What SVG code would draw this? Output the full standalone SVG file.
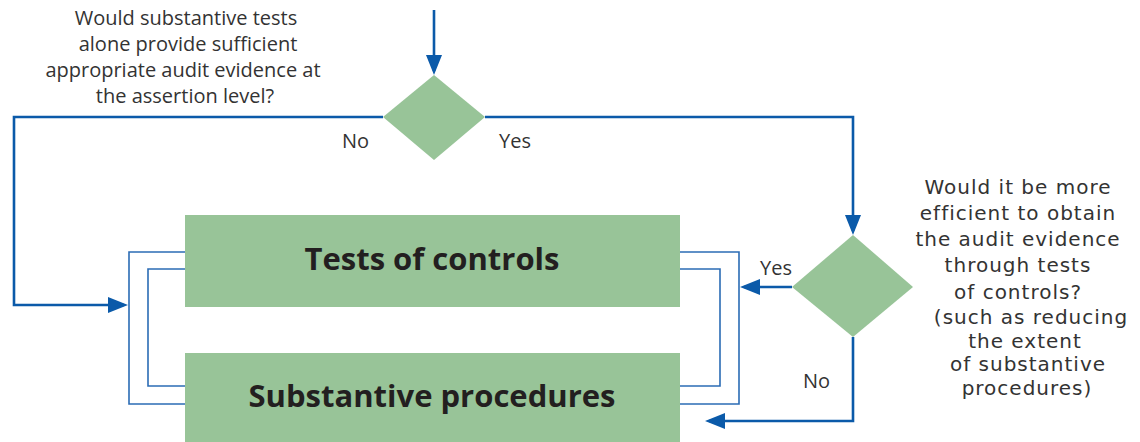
<svg xmlns="http://www.w3.org/2000/svg" width="1140" height="442" viewBox="0 0 1140 442">
<defs>
<style>
.conn{fill:none;stroke:#0b5aa9;stroke-width:2.6}
.brk{fill:none;stroke:#2b6cb5;stroke-width:1.6}
.box{fill:#98c498}
.q{font-family:"Open Sans","Liberation Sans",sans-serif;font-size:20px;fill:#333;text-anchor:middle}
.q2{font-family:"DejaVu Sans","Liberation Sans",sans-serif;font-size:20px;letter-spacing:1px;fill:#333;text-anchor:middle}
.lbl{font-family:"Open Sans","Liberation Sans",sans-serif;font-size:20px;fill:#333}
.big{font-family:"Open Sans","Liberation Sans",sans-serif;font-size:31px;font-weight:700;fill:#231f20;text-anchor:middle}
</style>
<marker id="ah" markerUnits="userSpaceOnUse" markerWidth="20" markerHeight="16" refX="16" refY="8" orient="auto" viewBox="0 0 20 16">
<path d="M0,0 L20,8 L0,16 Z" fill="#0b5aa9"/>
</marker>
</defs>
<g id="connectors">
<path class="conn" d="M434,10 V71" marker-end="url(#ah)"/>
<path class="conn" d="M383,117 H14 V305 H124" marker-end="url(#ah)"/>
<path class="conn" d="M485,117 H853 V231" marker-end="url(#ah)"/>
<path class="conn" d="M792,287 H744" marker-end="url(#ah)"/>
<path class="conn" d="M853,337 V421 H709" marker-end="url(#ah)"/>
<path class="brk" d="M185,252 H129 V404 H185"/>
<path class="brk" d="M185,269 H148 V386 H185"/>
<path class="brk" d="M680,252 H739 V404 H680"/>
<path class="brk" d="M680,269 H720 V386 H680"/>
</g>
<g id="q1-text">
<text class="q" x="186" y="25">Would substantive tests</text>
<text class="q" x="188" y="51">alone provide sufficient</text>
<text class="q" x="183" y="77">appropriate audit evidence at</text>
<text class="q" x="185" y="103">the assertion level?</text>
</g>
<g id="decision1">
<polygon points="434,75 485,117 434,160 383,117" fill="#98c498"/>
</g>
<g id="label-no1"><text class="lbl" x="342" y="148">No</text></g>
<g id="label-yes1"><text class="lbl" x="499" y="148">Yes</text></g>
<g id="tests-of-controls">
<rect class="box" x="185" y="215" width="495" height="92"/>
<text class="big" x="432" y="270">Tests of controls</text>
</g>
<g id="substantive-procedures">
<rect class="box" x="185" y="353" width="495" height="89"/>
<text class="big" x="432" y="407">Substantive procedures</text>
</g>
<g id="decision2">
<polygon points="853,235 913,287 853,337 792,287" fill="#98c498"/>
</g>
<g id="label-yes2"><text class="lbl" x="760" y="275">Yes</text></g>
<g id="label-no2"><text class="lbl" x="803" y="388">No</text></g>
<g id="q2-text">
<text class="q2" x="1018" y="194">Would it be more</text>
<text class="q2" x="1018" y="220">efficient to obtain</text>
<text class="q2" x="1018" y="246">the audit evidence</text>
<text class="q2" x="1018" y="272">through tests</text>
<text class="q2" x="1018" y="299">of controls?</text>
<text class="q2" x="1031" y="324">(such as reducing</text>
<text class="q2" x="1025" y="347.5">the extent</text>
<text class="q2" x="1028" y="371">of substantive</text>
<text class="q2" x="1027" y="394.5">procedures)</text>
</g>
</svg>
